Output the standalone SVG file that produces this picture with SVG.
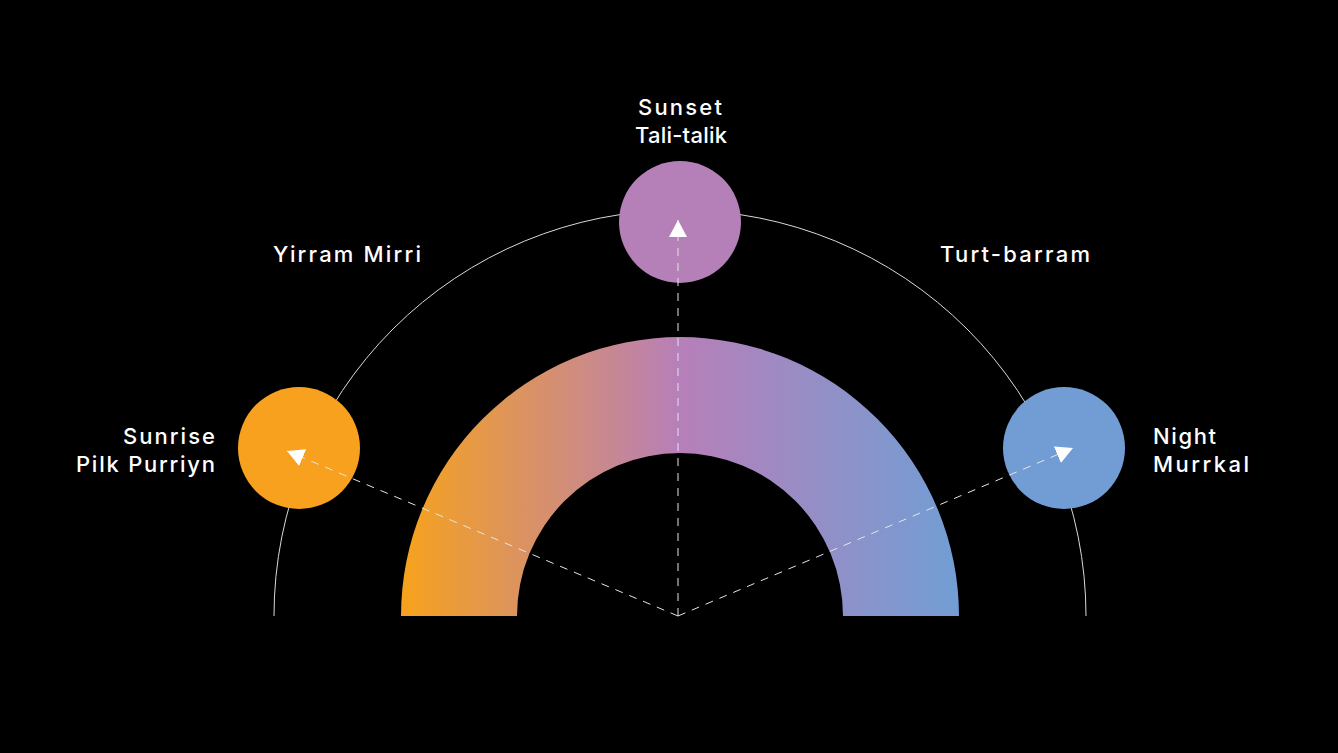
<svg xmlns="http://www.w3.org/2000/svg" width="1338" height="753" viewBox="0 0 1338 753">
  <style>
    .lbl { font-family: Inter, "Liberation Sans", sans-serif; font-size: 22px; font-weight: 500; fill: #ffffff; }
    .dash { stroke: #e6e6e6; stroke-width: 1; stroke-dasharray: 8 7; fill: none; }
    .orbit { stroke: #d9d9d9; stroke-width: 1; fill: none; }
  </style>
  <defs>
    <linearGradient id="band" x1="401" y1="0" x2="959" y2="0" gradientUnits="userSpaceOnUse">
      <stop offset="0" stop-color="#F7A21C"/>
      <stop offset="0.5" stop-color="#B77FB9"/>
      <stop offset="1" stop-color="#719ED4"/>
    </linearGradient>
    <marker id="arrow" viewBox="0 0 17 18" refX="17" refY="9" markerWidth="17" markerHeight="18" markerUnits="userSpaceOnUse" orient="auto">
      <path d="M0,0 L17,9 L0,18 Z" fill="#ffffff"/>
    </marker>
  </defs>
  <rect width="1338" height="753" fill="#000000"/>

  <g id="orbit">
    <path class="orbit" d="M 274 616 A 406 406 0 0 1 1086 616"/>
  </g>

  <g id="band-arc">
    <path d="M 401 616 A 279 279 0 0 1 959 616 L 843 616 A 163 163 0 0 0 517 616 Z" fill="url(#band)"/>
  </g>

  <g id="sunrise">
    <circle cx="299" cy="448" r="61" fill="#F7A11E"/>
    <text class="lbl" x="123" y="444" textLength="92" lengthAdjust="spacing">Sunrise</text>
    <text class="lbl" x="76" y="472" textLength="139" lengthAdjust="spacing">Pilk Purriyn</text>
  </g>

  <g id="sunset">
    <circle cx="680" cy="222" r="61" fill="#B57FB8"/>
    <text class="lbl" x="638" y="115" textLength="84" lengthAdjust="spacing">Sunset</text>
    <text class="lbl" x="635" y="143" textLength="92" lengthAdjust="spacing">Tali-talik</text>
  </g>

  <g id="night">
    <circle cx="1064" cy="448" r="61" fill="#729DD4"/>
    <text class="lbl" x="1153" y="444" textLength="63" lengthAdjust="spacing">Night</text>
    <text class="lbl" x="1153" y="472" textLength="96" lengthAdjust="spacing">Murrkal</text>
  </g>

  <g id="yirram-mirri">
    <text class="lbl" x="273" y="262" textLength="148" lengthAdjust="spacing">Yirram Mirri</text>
  </g>

  <g id="turt-barram">
    <text class="lbl" x="940" y="262" textLength="150" lengthAdjust="spacing">Turt-barram</text>
  </g>

  <g id="connectors">
    <line class="dash" x1="678" y1="616" x2="287" y2="451" marker-end="url(#arrow)"/>
    <line class="dash" x1="678" y1="616" x2="678" y2="220" marker-end="url(#arrow)"/>
    <line class="dash" x1="678" y1="616" x2="1073" y2="448" marker-end="url(#arrow)"/>
  </g>
</svg>
